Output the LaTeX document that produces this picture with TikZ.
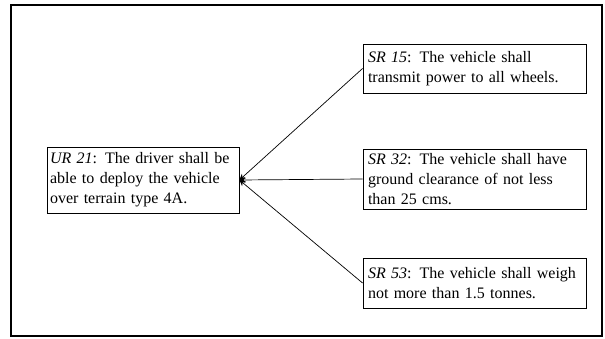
\documentclass[tikz,border=0pt]{standalone}
\usepackage{fontspec}
\setmainfont{Liberation Serif}
\usetikzlibrary{arrows.meta}
\newcommand\reqfont{\fontsize{16}{20}\selectfont\spaceskip=0.21em plus 0.05em minus 0.03em\relax}
\begin{document}
\begin{tikzpicture}[x=1pt,y=1pt,
  req/.style={draw=black, line width=0.9pt, rectangle, align=left, inner ysep=0pt, inner xsep=5pt,
    font=\reqfont},
  link/.style={line width=0.7pt, -{Stealth[length=6pt,width=6pt]}}]
\useasboundingbox (0,0) rectangle (605,338);
\draw[line width=2pt] (10.5,2) rectangle (602,332.5);
\node[req, minimum width=192pt, minimum height=66pt, text width=186pt, inner xsep=3pt] (ur) at (143,158)
  {\textit{UR 21}: The driver shall be\\able to deploy the vehicle\\over terrain type 4A.};
\node[req, minimum width=223pt, minimum height=49pt, text width=213pt] (sr15) at (474.5,269.5)
  {\textit{SR 15}: The vehicle shall\\transmit power to all wheels.};
\node[req, minimum width=223pt, minimum height=60pt, text width=213pt] (sr32) at (474.5,159)
  {\textit{SR 32}: The vehicle shall have\\ground clearance of not less\\than 25 cms.};
\node[req, minimum width=223pt, minimum height=50pt, text width=213pt] (sr53) at (474.5,55)
  {\textit{SR 53}: The vehicle shall weigh\\not more than 1.5 tonnes.};
\draw[link] (sr15.west) -- (ur.east);
\draw[link] (sr32.west) -- (ur.east);
\draw[link] (sr53.west) -- (ur.east);
\end{tikzpicture}
\end{document}
